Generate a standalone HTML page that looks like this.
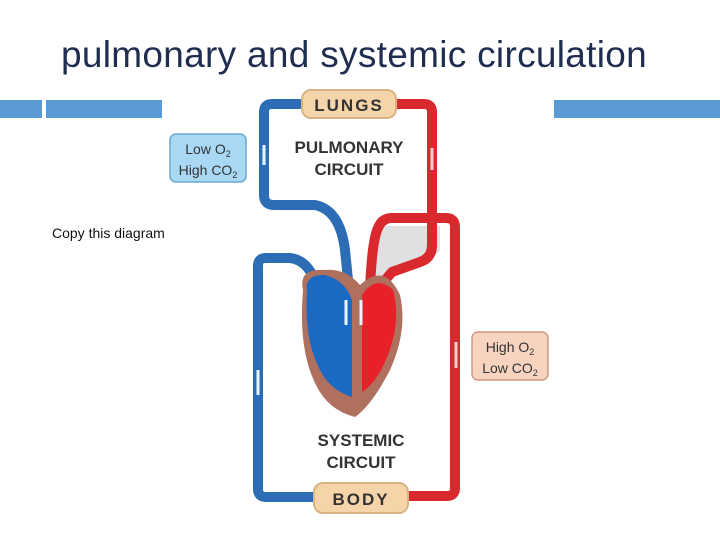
<!DOCTYPE html>
<html><head><meta charset="utf-8"><style>
body{margin:0;width:720px;height:540px;background:#fff;overflow:hidden;position:relative;font-family:"Liberation Sans",sans-serif}
.t{position:absolute;left:0;width:720px;top:34px;text-align:center;font-size:37px;color:#1f2d50;margin-left:-6px;letter-spacing:0.3px}
.bar{position:absolute;top:100px;height:18px;background:#5b9bd5}
.c{position:absolute;left:52px;top:225px;font-size:14px;color:#111}
</style></head><body>
<div class="t">pulmonary and systemic circulation</div>
<div class="bar" style="left:0;width:42px"></div>
<div class="bar" style="left:46px;width:116px"></div>
<div class="bar" style="left:554px;width:166px"></div>
<div class="c">Copy this diagram</div>
<svg width="720" height="540" style="position:absolute;left:0;top:0" font-family="Liberation Sans, sans-serif">
<path d="M380 226 H440 V250 Q430 262 405 268 Q385 275 375 285 Z" fill="#e0e0e2"/>
<g fill="none" stroke-linejoin="round" stroke-linecap="round">
<path d="M370 290 Q372 240 378 228 Q382 218 392 218 H446 Q455 218 455 227 V488 Q455 496 447 496 H400" stroke="#d9282e" stroke-width="10"/>
<path d="M395 104 H424 Q432 104 432 112 V245 Q432 258 420 262 L392 272 L375 292" stroke="#d9282e" stroke-width="10"/>
<path d="M300 104 H272 Q264 104 264 112 V195 Q264 205 274 205 H315 Q340 210 345 250 L350 300" stroke="#2d6db5" stroke-width="10"/>
<path d="M318 497 H266 Q258 497 258 489 V266 Q258 258 266 258 H290 Q310 260 318 290 L325 305" stroke="#2d6db5" stroke-width="10"/>
</g>
<path d="M303 290 Q298 268 325 270 Q345 268 360 285 Q385 262 400 295 Q408 330 390 370 Q372 405 355 417 Q328 410 316 385 Q298 350 303 290 Z" fill="#b0705e"/>
<path d="M307 292 Q304 274 325 275 Q345 280 352 300 L352 397 Q330 390 320 370 Q304 340 307 292 Z" fill="#1a6ac4"/>
<path d="M362 295 Q376 274 393 290 Q401 320 389 352 Q378 382 362 392 Z" fill="#e8202a"/>
<g stroke="#e8f6ff" stroke-width="3">
<line x1="264" y1="165" x2="264" y2="145"/><line x1="258" y1="395" x2="258" y2="370"/>
<line x1="346" y1="325" x2="346" y2="300"/><line x1="361" y1="325" x2="361" y2="300"/>
</g>
<g stroke="#f6d0d0" stroke-width="3"><line x1="432" y1="148" x2="432" y2="170"/><line x1="456" y1="342" x2="456" y2="368"/></g>
<rect x="302" y="90" width="94" height="28" rx="9" fill="#f4d4a8" stroke="#d8b484" stroke-width="2"/>
<text x="349" y="111" text-anchor="middle" font-size="17" font-weight="bold" fill="#333" letter-spacing="2">LUNGS</text>
<rect x="314" y="483" width="94" height="30" rx="9" fill="#f4d4a8" stroke="#d8b484" stroke-width="2"/>
<text x="361" y="505" text-anchor="middle" font-size="17" font-weight="bold" fill="#333" letter-spacing="2">BODY</text>
<text x="349" y="153" text-anchor="middle" font-size="17" font-weight="bold" fill="#333">PULMONARY</text>
<text x="349" y="175" text-anchor="middle" font-size="17" font-weight="bold" fill="#333">CIRCUIT</text>
<text x="361" y="446" text-anchor="middle" font-size="17" font-weight="bold" fill="#333">SYSTEMIC</text>
<text x="361" y="468" text-anchor="middle" font-size="17" font-weight="bold" fill="#333">CIRCUIT</text>
<rect x="170" y="134" width="76" height="48" rx="6" fill="#a8d8f4" stroke="#6aa8d0" stroke-width="1.5"/>
<text x="208" y="154" text-anchor="middle" font-size="14" fill="#333">Low O<tspan font-size="9" dy="3">2</tspan></text>
<text x="208" y="175" text-anchor="middle" font-size="14" fill="#333">High CO<tspan font-size="9" dy="3">2</tspan></text>
<rect x="472" y="332" width="76" height="48" rx="6" fill="#f8d4c0" stroke="#d09880" stroke-width="1.5"/>
<text x="510" y="352" text-anchor="middle" font-size="14" fill="#333">High O<tspan font-size="9" dy="3">2</tspan></text>
<text x="510" y="373" text-anchor="middle" font-size="14" fill="#333">Low CO<tspan font-size="9" dy="3">2</tspan></text>
</svg>
</body></html>
